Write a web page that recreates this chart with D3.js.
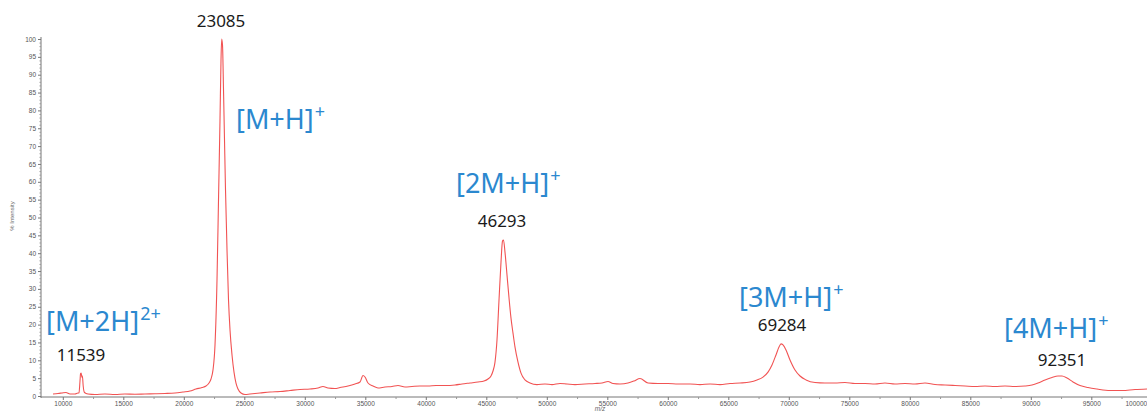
<!DOCTYPE html>
<html>
<head>
<meta charset="utf-8">
<script src="https://cdn.jsdelivr.net/npm/d3@7"></script>
<style>
  html, body { margin: 0; padding: 0; background: #fff; }
  svg { display: block; overflow: hidden; }
</style>
</head>
<body>
<svg id="chart" width="1147" height="412"></svg>
<script>
// ---- data (m/z, % intensity) ----
const mz = [9190, 9603, 9934, 10264, 10595, 11008, 11256, 11339, 11421, 11471, 11521, 11570, 11620, 11686, 11793, 12083,
  12661, 13487, 14314, 15140, 15967, 16793, 17620, 18446, 19272, 19933, 20512, 21008, 21504, 21835, 22083, 22248, 22413,
  22579, 22744, 22868, 22992, 23075, 23133, 23199, 23282, 23364, 23447, 23571, 23695, 23819, 23984, 24149, 24314, 24479,
  24727, 25058, 25471, 26297, 27124, 27950, 28777, 29603, 30430, 31091, 31504, 31917, 32496, 32909, 33570, 34149, 34562,
  34810, 34975, 35223, 35636, 36049, 36628, 37206, 37702, 38281, 38859, 39520, 40181, 40843, 41587, 42413, 42992, 43653,
  44314, 44810, 45140, 45388, 45554, 45719, 45884, 46050, 46215, 46339, 46421, 46545, 46711, 46876, 47041, 47207, 47372,
  47620, 47868, 48198, 48612, 49190, 49851, 50430, 51091, 51669, 52331, 53157, 53983, 54562, 55058, 55471, 56050, 56711,
  57207, 57703, 58364, 59190, 60017, 60843, 61835, 62661, 63488, 64314, 65140, 65967, 66793, 67372, 67868, 68281, 68612,
  68942, 69190, 69355, 69521, 69769, 70099, 70512, 70926, 71422, 72165, 72992, 73818, 74645, 75471, 76297, 77124, 77950,
  78777, 79603, 80430, 81256, 82083, 82909, 83735, 84562, 85388, 86215, 87041, 87868, 88694, 89521, 90099, 90595, 91174,
  91752, 92248, 92579, 92992, 93488, 94066, 94727, 95471, 96545, 97537, 98612, 99603];
const intensity = [0.56, 0.7, 0.84, 0.98, 0.56, 0.56, 0.84, 0.84, 4.2, 6.3, 6.44, 5.3, 5.6, 2.8, 0.98, 0.56,
  0.42, 0.56, 0.42, 0.56, 0.48, 0.56, 0.62, 0.7, 0.84, 1.12, 1.4, 1.96, 2.38, 2.8, 3.64, 4.76, 7.3,
  14.3, 32.5, 54.9, 77.3, 94.1, 100, 98.3, 85.7, 71.7, 57.7, 40.9, 26.9, 18.5, 11.5, 6.7, 3.6, 1.96,
  0.84, 0.42, 0.56, 0.84, 1.12, 1.26, 1.54, 1.82, 1.96, 2.24, 2.66, 2.24, 2.1, 2.38, 2.8, 3.36, 3.92,
  5.74, 5.32, 3.64, 2.8, 2.24, 2.52, 2.66, 2.94, 2.52, 2.66, 2.8, 2.8, 2.94, 2.94, 3.08, 3.36, 3.64,
  3.92, 4.2, 4.76, 5.6, 7.0, 9.5, 15.7, 26.9, 37.5, 43.4, 43.7, 40.3, 33.9, 27.5, 21.8, 17.6, 13.7,
  9.5, 6.4, 4.5, 3.64, 3.2, 3.36, 3.2, 3.5, 3.36, 3.2, 3.36, 3.5, 3.64, 4.06, 3.5, 3.36, 3.64,
  4.2, 4.9, 3.64, 3.5, 3.5, 3.36, 3.36, 3.2, 3.36, 3.2, 3.5, 3.64, 3.92, 4.5, 5.3, 6.7, 8.7,
  11.5, 13.7, 14.6, 14.3, 12.9, 10.1, 7.3, 5.6, 4.5, 3.78, 3.64, 3.64, 3.78, 3.5, 3.5, 3.36, 3.64,
  3.36, 3.5, 3.36, 3.64, 3.2, 3.08, 2.94, 2.8, 2.66, 2.8, 2.66, 2.8, 2.66, 2.8, 3.08, 3.64, 4.5,
  5.2, 5.6, 5.6, 5.04, 3.92, 2.94, 2.38, 1.96, 1.54, 1.54, 1.82, 1.96];

const peakMz = [11539, 23085, 46293, 69284, 92351];
const peakLabels = ["11539", "23085", "46293", "69284", "92351"];
const ionNames = ["[M+2H]", "[M+H]", "[2M+H]", "[3M+H]", "[4M+H]"];
const ionCharges = ["2+", "+", "+", "+", "+"];

const xTicks = d3.range(10000, 100001, 5000);
const xMinorTicks = d3.range(12500, 100000, 5000);
const yTicks = d3.range(0, 101, 5);
const yMinorTicks = d3.range(0, 101, 1).filter(v => v % 5 !== 0);

// ---- layout ----
const svg = d3.select("#chart");
const x = d3.scaleLinear().domain([10000, 90000]).range([62.8, 1030.8]);
const y = d3.scaleLinear().domain([0, 100]).range([396, 39]);
const axisColor = "#777";
const tickFont = "Liberation Sans, Arial, sans-serif";

// y axis
const yAxis = svg.append("g").attr("transform", "translate(41,0)")
  .call(d3.axisLeft(y).tickValues(yTicks).tickSize(3).tickPadding(2).tickFormat(d3.format("d")));
yAxis.select(".domain").attr("stroke", axisColor).attr("d", "M0,37V398");
yAxis.selectAll(".tick line").attr("stroke", axisColor);
yAxis.selectAll("text").attr("font-size", 6.5).attr("font-family", tickFont).attr("fill", "#555");
svg.append("g").attr("transform", "translate(41,0)")
  .call(d3.axisLeft(y).tickValues(yMinorTicks).tickSize(1.5).tickFormat(""))
  .call(g => g.select(".domain").remove())
  .selectAll("line").attr("stroke", "#999");

// x axis
const xAxis = svg.append("g").attr("transform", "translate(0,397)")
  .call(d3.axisBottom(x).tickValues(xTicks).tickSize(3).tickPadding(1.5).tickFormat(d3.format("d")));
xAxis.select(".domain").attr("stroke", axisColor).attr("d", "M41,0H1147");
xAxis.selectAll(".tick line").attr("stroke", axisColor);
xAxis.selectAll("text").attr("font-size", 6.5).attr("font-family", tickFont).attr("fill", "#555");
xAxis.selectAll(".tick").filter(d => d === 100000).select("text").attr("dx", -16);
svg.append("g").attr("transform", "translate(0,397)")
  .call(d3.axisBottom(x).tickValues(xMinorTicks).tickSize(2).tickFormat(""))
  .call(g => g.select(".domain").remove())
  .selectAll("line").attr("stroke", "#999");

// axis titles
svg.append("text").attr("transform", "translate(14,216) rotate(-90)")
  .attr("text-anchor", "middle").attr("font-size", 6).attr("font-family", tickFont)
  .attr("fill", "#666").text("% Intensity");
svg.append("text").attr("x", 600).attr("y", 411)
  .attr("text-anchor", "middle").attr("font-size", 6.5).attr("font-style", "italic")
  .attr("font-family", tickFont).attr("fill", "#666").text("m/z");

// spectrum
const pts = mz.map((m, i) => [m, intensity[i]]);
svg.append("path").datum(pts)
  .attr("fill", "none").attr("stroke", "#ee3535").attr("stroke-width", 1.1).attr("stroke-opacity", 0.85)
  .attr("stroke-linejoin", "round")
  .attr("d", d3.line().x(d => x(d[0])).y(d => y(d[1])).curve(d3.curveMonotoneX));

// annotations: mass labels
const numFont = "Noto Sans, Open Sans, sans-serif";
const numPos = [[81, 361], [221, 27], [502, 227], [782, 331], [1062, 366]];
svg.selectAll("text.num").data(peakLabels).join("text").attr("class", "num")
  .attr("x", (d, i) => numPos[i][0]).attr("y", (d, i) => numPos[i][1])
  .attr("text-anchor", "middle").attr("font-size", 17).attr("font-family", numFont)
  .attr("fill", "#1a1a1a").text(d => d);

// ion labels
const ionPos = [[46, 331], [236, 129], [456, 193], [739, 307], [1004, 338]];
const ions = svg.selectAll("text.ion").data(ionNames).join("text").attr("class", "ion")
  .attr("x", (d, i) => ionPos[i][0]).attr("y", (d, i) => ionPos[i][1])
  .attr("font-size", 27).attr("font-family", numFont).attr("fill", "#2b88cf");
ions.append("tspan").text(d => d);
ions.append("tspan").attr("font-size", 18).attr("dy", -11).attr("dx", 1).text((d, i) => ionCharges[i]);
</script>
</body>
</html>
